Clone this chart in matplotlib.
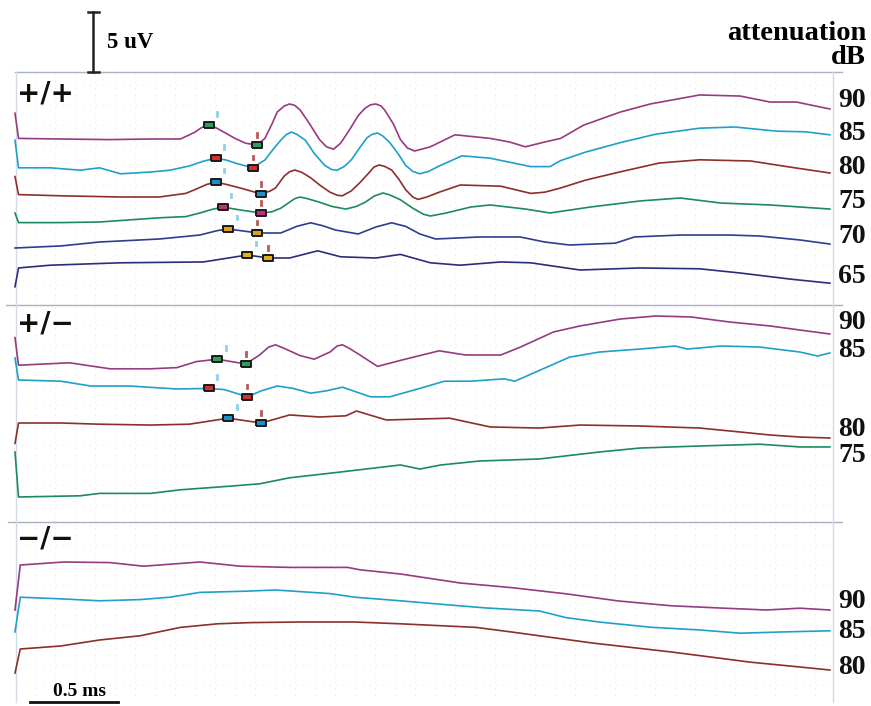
import numpy as np
import matplotlib
matplotlib.use("Agg")
import matplotlib.pyplot as plt

# Escala de la figura original (px por unidad)
PX_PER_MS = 176.0
PX_PER_UV = 12.0
X0_PX = 15.0

# ===============================
# DATOS: tiempo (ms) y amplitud (uV) relativa al nivel de la etiqueta
# ===============================
# genotipo +/+
WT90_T = [0.00, 0.02, 0.26, 0.54, 0.77, 0.94, 1.02, 1.06, 1.10, 1.14, 1.19, 1.25, 1.31, 1.375, 1.42, 1.46, 1.49,
          1.53, 1.56, 1.59, 1.62, 1.67, 1.73, 1.77, 1.81, 1.85, 1.90, 1.95, 1.99, 2.02, 2.05, 2.08, 2.10, 2.15,
          2.19, 2.23, 2.27, 2.31, 2.36, 2.50, 2.70, 2.81, 2.90, 3.01, 3.10, 3.23, 3.44, 3.61, 3.89, 4.12, 4.29,
          4.44, 4.63]
WT90_V = [-1.1, -3.2, -3.25, -3.3, -3.25, -3.25, -2.7, -2.3, -2.1, -2.3, -2.7, -3.2, -3.6, -3.75, -3.2, -2.0,
          -1.0, -0.5, -0.33, -0.45, -0.83, -1.9, -3.3, -3.9, -4.1, -3.6, -2.5, -1.3, -0.67, -0.4, -0.33, -0.5,
          -0.83, -2.0, -3.3, -4.0, -4.25, -4.1, -3.9, -2.9, -3.2, -3.5, -3.9, -3.5, -3.2, -2.1, -1.0, -0.33, 0.42,
          0.33, -0.17, -0.17, -0.75]

WT85_T = [0.00, 0.02, 0.20, 0.37, 0.48, 0.60, 0.77, 0.88, 0.99, 1.07, 1.14, 1.20, 1.25, 1.35, 1.42, 1.47, 1.51,
          1.54, 1.57, 1.60, 1.65, 1.70, 1.76, 1.80, 1.83, 1.87, 1.91, 1.96, 2.00, 2.03, 2.06, 2.09, 2.13, 2.18,
          2.22, 2.26, 2.30, 2.35, 2.41, 2.54, 2.70, 2.93, 3.04, 3.10, 3.24, 3.44, 3.64, 3.89, 4.09, 4.33, 4.49,
          4.63]
WT85_V = [-0.6, -2.9, -2.9, -3.1, -2.9, -3.4, -3.25, -3.1, -2.75, -2.35, -2.1, -2.25, -2.5, -2.9, -2.25, -1.3,
          -0.6, -0.15, 0.08, -0.1, -0.6, -1.7, -2.7, -3.05, -3.1, -2.8, -2.25, -1.2, -0.4, -0.1, 0.0, -0.25, -0.8,
          -1.8, -2.7, -3.2, -3.4, -3.2, -2.75, -1.9, -2.1, -2.8, -2.8, -2.3, -1.6, -0.8, -0.1, 0.4, 0.5, 0.15,
          0.1, -0.15]

WT80_T = [0.00, 0.02, 0.26, 0.60, 0.82, 0.97, 1.02, 1.09, 1.14, 1.20, 1.28, 1.40, 1.45, 1.48, 1.53, 1.56, 1.59,
          1.63, 1.68, 1.74, 1.79, 1.83, 1.86, 1.91, 1.96, 2.01, 2.04, 2.07, 2.10, 2.14, 2.18, 2.22, 2.26, 2.29,
          2.34, 2.41, 2.53, 2.76, 2.93, 3.01, 3.10, 3.24, 3.44, 3.66, 3.89, 4.18, 4.40, 4.63]
WT80_V = [-0.8, -2.3, -2.4, -2.5, -2.5, -2.2, -1.9, -1.45, -1.25, -1.45, -1.75, -2.25, -2.0, -1.75, -0.75, -0.4,
          -0.25, -0.45, -0.9, -1.6, -2.1, -2.35, -2.4, -2.0, -1.3, -0.5, 0.0, 0.17, 0.05, -0.25, -1.0, -1.9, -2.5,
          -2.7, -2.5, -2.1, -1.5, -1.6, -2.2, -2.1, -1.75, -1.1, -0.4, 0.33, 0.6, 0.5, 0.0, -0.5]

WT75_T = [0.00, 0.02, 0.26, 0.48, 0.82, 0.97, 1.05, 1.12, 1.18, 1.24, 1.28, 1.40, 1.46, 1.51, 1.56, 1.59, 1.62,
          1.66, 1.73, 1.80, 1.88, 1.94, 1.99, 2.04, 2.09, 2.13, 2.19, 2.26, 2.32, 2.36, 2.45, 2.59, 2.70, 2.90,
          3.04, 3.27, 3.55, 3.78, 4.01, 4.29, 4.63]
WT75_V = [-1.0, -1.8, -1.8, -1.75, -1.4, -1.3, -1.0, -0.7, -0.5, -0.65, -0.75, -1.0, -0.9, -0.6, -0.1, 0.2,
          0.33, 0.2, -0.1, -0.45, -0.67, -0.45, -0.1, 0.4, 0.67, 0.5, 0.1, -0.6, -1.1, -1.25, -1.0, -0.5, -0.33,
          -0.67, -1.0, -0.5, 0.0, 0.25, -0.17, -0.33, -0.67]

WT70_T = [0.00, 0.26, 0.48, 0.82, 1.05, 1.15, 1.21, 1.28, 1.38, 1.51, 1.60, 1.68, 1.75, 1.82, 1.95, 2.05, 2.14,
          2.22, 2.30, 2.39, 2.64, 2.87, 3.01, 3.15, 3.41, 3.52, 3.78, 4.06, 4.23, 4.46, 4.63]
WT70_V = [-1.0, -0.83, -0.5, -0.25, 0.08, 0.45, 0.58, 0.45, 0.25, 0.25, 0.8, 1.1, 0.85, 0.5, 0.17, 0.75, 1.1,
          0.8, 0.17, -0.25, -0.08, -0.08, -0.5, -0.75, -0.6, -0.08, 0.08, 0.08, 0.0, -0.33, -0.67]

WT65_T = [0.00, 0.02, 0.20, 0.60, 1.07, 1.32, 1.44, 1.56, 1.72, 1.85, 2.05, 2.19, 2.36, 2.53, 2.76, 2.93, 3.21,
          3.55, 3.89, 4.12, 4.40, 4.63]
WT65_V = [-0.9, 0.67, 0.9, 1.1, 1.17, 1.75, 1.5, 1.5, 2.1, 1.6, 1.5, 1.8, 1.1, 0.9, 1.17, 1.1, 0.5, 0.67, 0.6,
          0.25, -0.25, -0.6]

# genotipo +/-
HET90_T = [0.00, 0.02, 0.31, 0.54, 0.77, 0.92, 1.03, 1.15, 1.31, 1.39, 1.44, 1.48, 1.53, 1.62, 1.70, 1.79, 1.83,
           1.86, 1.90, 1.96, 2.06, 2.19, 2.30, 2.41, 2.56, 2.76, 2.87, 3.06, 3.21, 3.44, 3.64, 3.84, 4.06, 4.29,
           4.46, 4.63]
HET90_V = [-1.3, -3.6, -3.4, -3.9, -3.9, -3.8, -3.3, -3.1, -3.5, -2.75, -2.1, -1.9, -2.2, -2.8, -3.1, -2.5,
           -2.0, -1.9, -2.2, -2.75, -3.7, -3.2, -2.8, -2.4, -2.75, -2.75, -2.1, -0.83, -0.33, 0.25, 0.5, 0.42, 0.0,
           -0.33, -0.67, -1.0]

HET85_T = [0.00, 0.02, 0.26, 0.43, 0.65, 0.92, 1.10, 1.19, 1.32, 1.40, 1.49, 1.58, 1.68, 1.77, 1.86, 1.94, 2.02,
           2.13, 2.30, 2.44, 2.59, 2.78, 2.84, 2.98, 3.15, 3.32, 3.55, 3.75, 3.82, 4.01, 4.23, 4.46, 4.56, 4.63]
HET85_V = [-0.67, -2.5, -2.6, -3.0, -3.0, -3.25, -3.2, -3.3, -3.9, -3.4, -3.0, -3.2, -3.6, -3.4, -3.1, -3.5,
           -3.9, -3.9, -3.2, -2.6, -2.6, -2.4, -2.6, -1.7, -0.6, -0.17, 0.08, 0.33, 0.08, 0.33, 0.25, -0.17, -0.5,
           -0.25]

HET80_T = [0.00, 0.02, 0.26, 0.48, 0.77, 0.99, 1.21, 1.40, 1.56, 1.73, 1.88, 1.94, 2.11, 2.30, 2.47, 2.70, 2.98,
           3.21, 3.55, 3.89, 4.12, 4.29, 4.46, 4.63]
HET80_V = [-1.2, 0.5, 0.5, 0.4, 0.33, 0.4, 0.9, 0.5, 1.17, 1.0, 1.1, 1.5, 0.75, 0.83, 0.9, 0.17, 0.08, 0.33,
           0.25, 0.08, -0.25, -0.5, -0.67, -0.75]

HET75_T = [0.00, 0.02, 0.37, 0.48, 0.77, 0.94, 1.22, 1.39, 1.56, 1.86, 2.19, 2.30, 2.42, 2.64, 2.98, 3.32, 3.55,
           3.89, 4.23, 4.46, 4.63]
HET75_V = [0.25, -3.5, -3.4, -3.2, -3.2, -2.9, -2.6, -2.4, -1.9, -1.4, -0.83, -1.17, -0.83, -0.5, -0.33, 0.25,
           0.58, 0.75, 0.9, 0.67, 0.67]

# genotipo -/-
KO90_T = [0.00, 0.03, 0.28, 0.54, 0.73, 1.05, 1.28, 1.56, 1.89, 1.96, 2.19, 2.53, 2.83, 3.13, 3.43, 3.73, 4.03,
          4.27, 4.46, 4.63]
KO90_V = [-0.75, 3.0, 3.25, 3.2, 2.9, 3.25, 2.9, 2.8, 2.8, 2.6, 2.25, 1.5, 1.1, 0.6, 0.0, -0.4, -0.6, -0.75,
          -0.6, -0.75]

KO85_T = [0.00, 0.03, 0.28, 0.48, 0.71, 0.88, 1.05, 1.31, 1.48, 1.79, 1.93, 2.19, 2.47, 2.68, 2.98, 3.13, 3.32,
          3.61, 3.89, 4.12, 4.35, 4.63]
KO85_V = [0.0, 2.9, 2.75, 2.6, 2.7, 2.9, 3.3, 3.4, 3.5, 3.2, 2.9, 2.6, 2.25, 2.0, 1.75, 1.2, 0.83, 0.4, 0.17,
          -0.1, 0.0, 0.1]

KO80_T = [0.00, 0.03, 0.26, 0.48, 0.71, 0.94, 1.15, 1.34, 1.62, 1.93, 2.19, 2.62, 2.83, 3.28, 3.73, 4.18, 4.46,
          4.63]
KO80_V = [-0.5, 1.5, 1.75, 2.25, 2.6, 3.3, 3.6, 3.7, 3.75, 3.75, 3.6, 3.3, 2.9, 2.0, 1.25, 0.4, 0.0, -0.25]

# marcas de picos (ms): primera y segunda marca de cada traza
WT_MARK_DB = [90, 85, 80, 75, 70, 65]
WT_MARK_A = [1.10, 1.14, 1.14, 1.18, 1.21, 1.32]
WT_MARK_B = [1.375, 1.35, 1.40, 1.40, 1.375, 1.44]
HET_MARK_DB = [90, 85, 80]
HET_MARK_A = [1.15, 1.10, 1.21]
HET_MARK_B = [1.31, 1.32, 1.40]

# ===============================
# Estilos y posiciones
# ===============================
COLORES = {90: "#963a82", 85: "#1fa0c8", 80: "#8c2f28", 75: "#1b8a5e", 70: "#2d3d8f", 65: "#2a2d7c"}
COLOR_MARCA = {90: "#2f9e5a", 85: "#d03030", 80: "#1f8fc8", 75: "#c0307f", 70: "#e0a020", 65: "#e0b020"}

# posicion vertical (px) de cada etiqueta / nivel de referencia
WT_Y = {90: 100, 85: 133, 80: 167, 75: 201, 70: 236, 65: 276}
HET_Y = {90: 322, 85: 350, 80: 429, 75: 455}
KO_Y = {90: 601, 85: 632, 80: 667}


def tx(px):
    return (px - X0_PX) / PX_PER_MS


def ty(py):
    return -py / PX_PER_UV


W, H = 871, 706
fig = plt.figure(figsize=(W / 100, H / 100), dpi=100)
ax = fig.add_axes([0, 0, 1, 1])
ax.set_xlim(tx(0), tx(W))
ax.set_ylim(ty(H), ty(0))
ax.axis("off")

SERIF = "Liberation Serif"

# cuadricula punteada muy tenue
for gx in np.arange(35, 833, 20):
    ax.plot([tx(gx), tx(gx)], [ty(74), ty(700)], color="#e2e8ef", lw=0.8, ls=(0, (1, 5)), zorder=0)
for gy in np.arange(85, 700, 20):
    ax.plot([tx(16), tx(833)], [ty(gy), ty(gy)], color="#e5eaf1", lw=0.8, ls=(0, (1, 5)), zorder=0)

# marcos de los paneles
for (y, x1) in [(72, 15), (305, 6), (522, 8)]:
    ax.plot([tx(x1), tx(842)], [ty(y), ty(y)], color="#a8b2c2", lw=1.0, zorder=1)
ax.plot([tx(16), tx(16)], [ty(72), ty(702)], color="#d3dbe6", lw=1.0, zorder=1)
ax.plot([tx(833), tx(833)], [ty(72), ty(702)], color="#d3dbe6", lw=1.0, zorder=1)

grupos = [
    ("+/+", 93, WT_Y, {90: (WT90_T, WT90_V), 85: (WT85_T, WT85_V), 80: (WT80_T, WT80_V),
                        75: (WT75_T, WT75_V), 70: (WT70_T, WT70_V), 65: (WT65_T, WT65_V)},
     (WT_MARK_DB, WT_MARK_A, WT_MARK_B)),
    ("+/\u2212", 323, HET_Y, {90: (HET90_T, HET90_V), 85: (HET85_T, HET85_V), 80: (HET80_T, HET80_V),
                              75: (HET75_T, HET75_V)},
     (HET_MARK_DB, HET_MARK_A, HET_MARK_B)),
    ("\u2212/\u2212", 538, KO_Y, {90: (KO90_T, KO90_V), 85: (KO85_T, KO85_V), 80: (KO80_T, KO80_V)}, None),
]

caja = [(-1, -0.55), (1, -0.55), (1, 0.55), (-1, 0.55), (-1, -0.55)]

for nombre, y_nombre, niveles, trazas, marcas in grupos:
    ax.text(tx(17), ty(y_nombre), nombre, fontsize=20, fontweight="bold", family="DejaVu Sans",
            ha="left", va="center", color="#111111")
    for db, (t, v) in trazas.items():
        base = ty(niveles[db])
        ax.plot(t, np.array(v) + base, color=COLORES[db], lw=1.2, zorder=3, solid_joinstyle="round")
        ax.text(tx(838), base, str(db), fontsize=20, fontweight="bold", family=SERIF,
                ha="left", va="center", color="#111111")
    if marcas is not None:
        for db, ta, tb in zip(*marcas):
            t, v = trazas[db]
            base = ty(niveles[db])
            ya = np.interp(ta, t, v) + base
            yb = np.interp(tb, t, v) + base
            for tm, ym in [(ta, ya), (tb, yb)]:
                ax.plot(tm, ym, marker=caja, markersize=7.5, markerfacecolor=COLOR_MARCA[db],
                        markeredgecolor="#1a1a1a", markeredgewidth=1.4, ls="none", zorder=4)
            # pequeñas marcas verticales encima de cada caja
            ax.plot([ta + 0.05, ta + 0.05], [ya + 0.8, ya + 1.1], color="#8fd0e8", lw=2.0, zorder=4)
            ax.plot([tb, tb], [yb + 0.7, yb + 1.0], color="#b85a5a", lw=2.0, zorder=4)

# barras de escala
x_uv = tx(93)
y_top = ty(12)
ax.plot([x_uv, x_uv], [y_top, y_top - 5], color="#222222", lw=1.8)
for yy in (y_top, y_top - 5):
    ax.plot([tx(88), tx(99)], [yy, yy], color="#222222", lw=1.8)
ax.text(tx(107), y_top - 2.5, "5 uV", fontsize=16.5, fontweight="bold", family=SERIF, ha="left", va="center")

x_ms = tx(30)
ax.plot([x_ms, x_ms + 0.5], [ty(702), ty(702)], color="#111111", lw=2.0)
ax.text(tx(79), ty(691), "0.5 ms", fontsize=14, fontweight="bold", family=SERIF, ha="center", va="center")

ax.text(tx(866), ty(33), "attenuation", fontsize=20.5, fontweight="bold", family=SERIF, ha="right", va="center")
ax.text(tx(866), ty(57), "dB", fontsize=20.5, fontweight="bold", family=SERIF, ha="right", va="center")

fig.savefig("out.png", dpi=100)
